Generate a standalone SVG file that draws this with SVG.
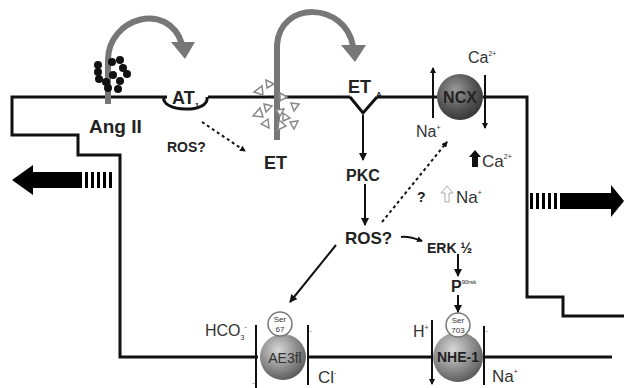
<svg xmlns="http://www.w3.org/2000/svg" width="624" height="388" viewBox="0 0 624 388">
<defs>
<radialGradient id="gDark" cx="40%" cy="35%" r="70%">
<stop offset="0" stop-color="#9a9a9a"/><stop offset="0.6" stop-color="#555"/><stop offset="1" stop-color="#333"/>
</radialGradient>
<radialGradient id="gLight" cx="40%" cy="35%" r="70%">
<stop offset="0" stop-color="#d8d8d8"/><stop offset="0.6" stop-color="#8a8a8a"/><stop offset="1" stop-color="#555"/>
</radialGradient>
<marker id="ah" markerWidth="8" markerHeight="8" refX="7" refY="4" orient="auto" markerUnits="userSpaceOnUse">
<path d="M0,0 L8,4 L0,8 Z" fill="#111"/>
</marker>
<marker id="ahs" markerWidth="6" markerHeight="6" refX="5" refY="3" orient="auto" markerUnits="userSpaceOnUse">
<path d="M0,0 L6,3 L0,6 Z" fill="#111"/>
</marker>
</defs>
<style>
.mem{fill:none;stroke:#111;stroke-width:3}
.ln{fill:none;stroke:#111;stroke-width:2}
.dash{fill:none;stroke:#111;stroke-width:2;stroke-dasharray:3,3}
.arc{fill:none;stroke:#777;stroke-width:6}
.tri{fill:#fff;stroke:#888;stroke-width:1.5}
.b{font-family:"Liberation Sans",Arial,sans-serif;font-weight:bold;fill:#222}
.r{font-family:"Liberation Sans",Arial,sans-serif;fill:#333}
.sub{font-size:8px}
</style>
<rect width="624" height="388" fill="#fff"/>

<g id="membrane">
<path class="mem" d="M167,97 H12 V135 H78 V155 H120 V357 H258"/>
<path class="mem" d="M208,97 H350"/>
<path class="mem" d="M377,97 H437"/>
<path class="mem" d="M483,97 H527 V297 H563 V316 H624"/>
<path class="mem" d="M308,357 H433"/>
<path class="mem" d="M483,357 H612"/>
</g>

<g id="angII">
<path class="arc" d="M108,104 V60 C108,18 168,0 182,44"/>
<path d="M171,42 L195,42 L185,59 Z" fill="#777"/>
<g fill="#111">
<circle cx="98" cy="65" r="4"/><circle cx="98" cy="72" r="4"/><circle cx="99" cy="79" r="4"/>
<circle cx="112" cy="62" r="4"/><circle cx="120" cy="60" r="4"/><circle cx="123" cy="68" r="4"/>
<circle cx="127" cy="74" r="4"/><circle cx="113" cy="75" r="4"/><circle cx="120" cy="81" r="4"/>
<circle cx="108" cy="88" r="4"/><circle cx="118" cy="89" r="4"/><circle cx="106" cy="82" r="4"/>
</g>
<text class="b" x="89" y="133" font-size="19">Ang II</text>
</g>

<g id="at1">
<path class="mem" d="M164,97 C160,112 210,114 207,97"/>
<text class="b" x="172" y="104" font-size="18">AT<tspan class="sub" dy="4">1</tspan></text>
<text class="b" x="167" y="152" font-size="14" fill="#444">ROS?</text>
</g>

<g id="et">
<path class="arc" d="M277,140 V45 C280,0 345,2 353,46" stroke-width="7"/>
<path d="M341,45 L366,45 L355,62 Z" fill="#777"/>
<g class="tri">
<path d="M254,92 L262,86 L263,95 Z"/>
<path d="M266,80 L274,84 L267,88 Z"/>
<path d="M280,93 L287,97 L280,101 Z"/>
<path d="M253,116 L260,108 L263,117 Z"/>
<path d="M264,104 L272,106 L266,112 Z"/>
<path d="M276,110 L284,109 L280,116 Z"/>
<path d="M291,103 L299,104 L294,111 Z"/>
<path d="M261,124 L268,119 L269,128 Z"/>
<path d="M279,120 L286,126 L278,130 Z"/>
<path d="M290,122 L298,121 L294,129 Z"/>
<path d="M283,113 L290,118 L283,121 Z"/>
</g>
<text class="b" x="264" y="169" font-size="18">ET</text>
</g>

<g id="eta">
<path class="mem" d="M350,97 L363,113 L377,97"/>
<text class="b" x="348" y="93" font-size="18">ET</text>
<text class="b" x="376" y="97" font-size="8" fill="#555">A</text>
</g>

<g id="pkc"><text class="b" x="346" y="181" font-size="16">PKC</text></g>
<g id="ros"><text class="b" x="345" y="244" font-size="17">ROS?</text></g>
<g id="erk"><text class="b" x="427" y="253" font-size="14">ERK ½</text></g>
<g id="p90rsk"><text class="b" x="451" y="292" font-size="16">P<tspan font-size="6" dy="-8" font-weight="normal">90rsk</tspan></text></g>

<g id="ncx">
<circle cx="460" cy="97" r="23" fill="url(#gDark)"/>
<text class="b" x="460" y="103" font-size="16" text-anchor="middle" fill="#eee">NCX</text>
<text class="r" x="468" y="63" font-size="16">Ca<tspan font-size="7" dy="-7">2+</tspan></text>
<text class="r" x="416" y="137" font-size="16">Na<tspan font-size="7" dy="-7">+</tspan></text>
</g>

<g id="ions">
<path d="M472,167 V157 H469 L475,150 L481,157 H478 V167 Z" fill="#111"/>
<text class="r" x="482" y="167" font-size="17">Ca<tspan font-size="7" dy="-8">2+</tspan></text>
<text class="b" x="417" y="202" font-size="14">?</text>
<path d="M445,202 V193 H441 L447,186 L453,193 H449 V202 Z" fill="#fff" stroke="#aaa" stroke-width="1"/>
<text class="r" x="456" y="203" font-size="17">Na<tspan font-size="7" dy="-8">+</tspan></text>
</g>

<g id="ae3">
<circle cx="283" cy="357" r="23" fill="url(#gLight)"/>
<circle cx="280" cy="324" r="12" fill="#fff" stroke="#777" stroke-width="1.5"/>
<text class="r" x="280" y="322" font-size="8" text-anchor="middle" fill="#777">Ser</text>
<text class="r" x="280" y="332" font-size="8" text-anchor="middle" fill="#777">67</text>
<text class="r" x="285" y="363" font-size="14" text-anchor="middle" fill="#333">AE3fl</text>
<text class="r" x="205" y="336" font-size="16">HCO<tspan font-size="7" dy="4">3</tspan><tspan font-size="7" dy="-11">-</tspan></text>
<text class="r" x="318" y="383" font-size="17">Cl<tspan font-size="7" dy="-8">-</tspan></text>
</g>

<g id="nhe1">
<circle cx="458" cy="357" r="25" fill="url(#gLight)"/>
<circle cx="458" cy="325" r="12" fill="#fff" stroke="#777" stroke-width="1.5"/>
<text class="r" x="458" y="323" font-size="8" text-anchor="middle" fill="#777">Ser</text>
<text class="r" x="458" y="333" font-size="8" text-anchor="middle" fill="#777">703</text>
<text class="b" x="458" y="362" font-size="14" text-anchor="middle" fill="#222">NHE-1</text>
<text class="r" x="413" y="337" font-size="16">H<tspan font-size="7" dy="-7">+</tspan></text>
<text class="r" x="492" y="382" font-size="17">Na<tspan font-size="7" dy="-8">+</tspan></text>
</g>

<g id="connectors">
<path class="dash" d="M202,122 L245,151" marker-end="url(#ahs)"/>
<path class="ln" d="M363,115 V160" marker-end="url(#ah)"/>
<path class="ln" d="M365,184 V225" marker-end="url(#ah)"/>
<path class="dash" d="M382,222 L447,142" marker-end="url(#ahs)"/>
<path class="ln" d="M401,237 C408,236 414,238 422,241" marker-end="url(#ahs)"/>
<path class="ln" d="M458,254 V276" marker-end="url(#ah)"/>
<path class="ln" d="M458,295 V312" marker-end="url(#ah)"/>
<path class="ln" d="M336,245 L290,302" marker-end="url(#ah)"/>
<path class="ln" d="M433,118 V68" marker-end="url(#ahs)"/>
<path class="ln" d="M485,75 V128" marker-end="url(#ahs)"/>
<path class="ln" d="M256,325 V388"/>
<path class="ln" d="M308,325 V385"/>
<text class="r" x="254" y="384" font-size="7" text-anchor="middle">‥</text>
<text class="r" x="310" y="332" font-size="7" text-anchor="middle">‥</text>
<path class="ln" d="M432,320 V384" marker-end="url(#ahs)"/>
<path class="ln" d="M484,385 V326"/>
<text class="r" x="486" y="332" font-size="7" text-anchor="middle">‥</text>
</g>

<g id="effluxLeft">
<path d="M12,180 L33,165 V172 H82 V188 H33 V195 Z" fill="#000"/>
<g fill="#000"><rect x="85" y="172" width="3" height="16"/><rect x="91" y="172" width="3" height="16"/><rect x="97" y="172" width="3" height="16"/><rect x="103" y="172" width="3" height="16"/><rect x="109" y="172" width="3" height="16"/></g>
</g>
<g id="effluxRight">
<path d="M560,193 H611 V185 L624,201 L611,217 V209 H560 Z" fill="#000"/>
<g fill="#000"><rect x="530" y="193" width="3" height="16"/><rect x="536" y="193" width="3" height="16"/><rect x="542" y="193" width="3" height="16"/><rect x="548" y="193" width="3" height="16"/><rect x="554" y="193" width="3" height="16"/></g>
</g>
</svg>
